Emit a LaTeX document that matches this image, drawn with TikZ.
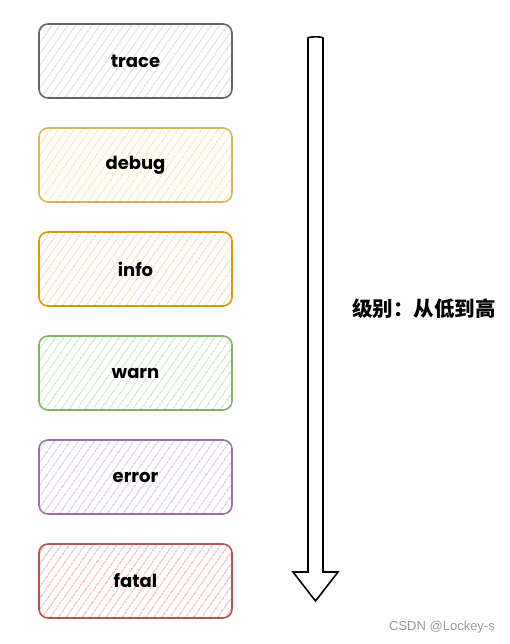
\documentclass[tikz,border=0pt]{standalone}
\usepackage{fontspec}
\setmainfont{Poppins}
\newfontfamily\cjkfont{Noto Sans CJK SC}
\newfontfamily\wmfont{Liberation Sans}
\usetikzlibrary{patterns.meta}
\definecolor{trS}{HTML}{666666}\definecolor{trF}{HTML}{DDDDDD}
\definecolor{dbS}{HTML}{D6B656}\definecolor{dbF}{HTML}{FFE39A}
\definecolor{inS}{HTML}{D79B00}\definecolor{inF}{HTML}{FFD6A8}
\definecolor{waS}{HTML}{82B366}\definecolor{waF}{HTML}{C6E2C2}
\definecolor{erS}{HTML}{9673A6}\definecolor{erF}{HTML}{D6C4E2}
\definecolor{faS}{HTML}{B85450}\definecolor{faF}{HTML}{F4B3B0}
\tikzset{
  lvl/.style 2 args={draw=#1, line width=1.6pt, rounded corners=9pt,
    minimum width=193pt, minimum height=74pt, inner sep=0pt,
    pattern={Lines[angle=55,distance=6.5pt,line width=1.2pt]}, pattern color=#2,
    font=\fontsize{18}{21}\selectfont\bfseries},
  bigarrow/.style={draw=black, line width=1.6pt, fill=white, line join=miter}
}
\begin{document}
\begin{tikzpicture}[x=1pt,y=-1pt]
\useasboundingbox (0,0) rectangle (510,644);
\node[lvl={trS}{trF}] (trace) at (135.5,61) {trace};
\node[lvl={dbS}{dbF}] (debug) at (135.5,165) {debug};
\node[lvl={inS}{inF}] (info) at (135.5,269) {info};
\node[lvl={waS}{waF}] (warn) at (135.5,373) {warn};
\node[lvl={erS}{erF}] (error) at (135.5,477) {error};
\node[lvl={faS}{faF}] (fatal) at (135.5,581) {fatal};
\draw[bigarrow] (308,572) -- (308,38) .. controls (308,36.5) and (323,36.5) .. (323,38) -- (323,572) -- (338,572) -- (315.5,601) -- (293,572) -- cycle;
\node[font=\cjkfont\bfseries\fontsize{20.5}{24}\selectfont] (lbl) at (424,309) {级别：从低到高};
\node[font=\wmfont\fontsize{13}{15}\selectfont, text=black!40] (wm) at (442,627) {CSDN @Lockey-s};
\end{tikzpicture}
\end{document}
